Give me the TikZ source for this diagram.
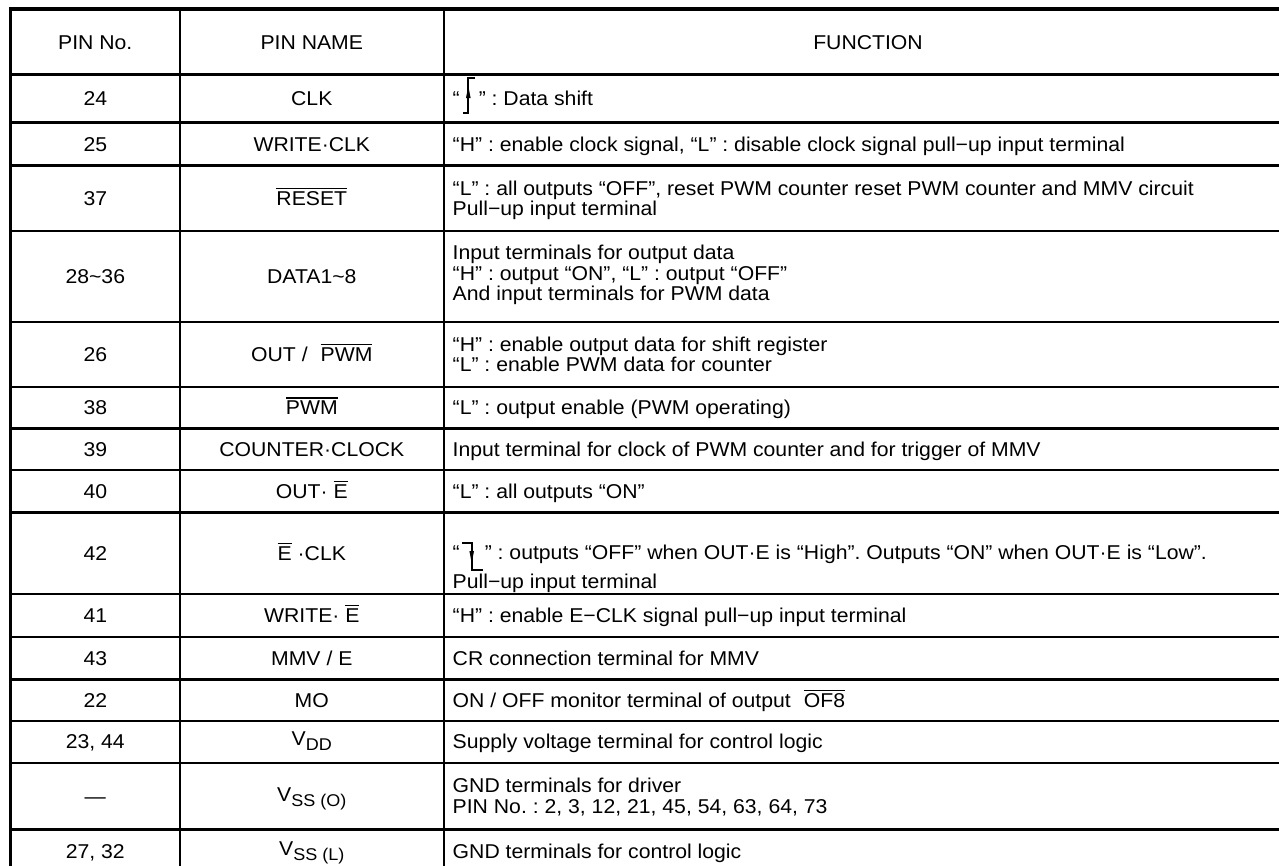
\documentclass[tikz,border=0pt]{standalone}
\usepackage{fontspec}
\setmainfont{Liberation Sans}[FakeStretch=1.06]
\newcommand\ovl[1]{\vbox{\hrule height 1.3pt\kern 2.2pt\hbox{#1}}}
\begin{document}
\frenchspacing
\begin{tikzpicture}[x=1pt,y=-1pt,
  txt/.style={inner sep=0pt, font=\fontsize{20}{20.5}\selectfont},
  ctr/.style={txt, anchor=base},
  lft/.style={txt, anchor=base west},
  thinrule/.style={line width=2.4pt},
  thickrule/.style={line width=3.6pt},
  edge/.style={line width=2pt, line cap=butt, line join=miter}]
\useasboundingbox (0,0) rectangle (1279,865);
\clip (0,0) rectangle (1279,865);
% ---- rules ----
\draw[thickrule] (9,9.2) -- (1300,9.2);
\draw[thickrule] (9,74.3) -- (1300,74.3);
\foreach \y in {122.3,165.3,230.7,321.7,386.7,428.3,470,512.3,593.7,636.7,679.3,720.7,762.7,829.3}
  \draw[thinrule] (9,\y) -- (1300,\y);
\draw[line width=3.4pt] (10.7,7.4) -- (10.7,900);
\draw[thinrule] (180,9.2) -- (180,900);
\draw[thinrule] (443.7,9.2) -- (443.7,900);
% ---- header ----
\node[ctr] (h1) at (95.3,49) {PIN No.};
\node[ctr] (h2) at (311.8,49) {PIN NAME};
\node[ctr] (h3) at (868,49) {FUNCTION};
% ---- row 24 ----
\node[ctr] (a1) at (95.3,105.5) {24};
\node[ctr] (b1) at (311.8,105.5) {CLK};
\node[lft] (c1) at (452.5,105.5) {“\hspace{19pt}” : Data shift};
\draw[edge] (463.3,113.3) -- (468.3,113.3) -- (468.3,78.3) -- (475,78.3);
\fill (468.3,86) -- (466,98) -- (470.6,98) -- cycle;
% ---- row 25 ----
\node[ctr] (a2) at (95.3,151) {25};
\node[ctr] (b2) at (311.8,151) {WRITE·CLK};
\node[lft] (c2) at (452.5,151) {“H” : enable clock signal, “L” : disable clock signal pull−up input terminal};
% ---- row 37 ----
\node[ctr] (a3) at (95.3,205.2) {37};
\node[ctr] (b3) at (311.8,205.2) {\ovl{RESET}};
\node[lft] (c3a) at (452.5,195) {“L” : all outputs “OFF”, reset PWM counter reset PWM counter and MMV circuit};
\node[lft] (c3b) at (452.5,215.4) {Pull−up input terminal};
% ---- row 28~36 ----
\node[ctr] (a4) at (95.3,283.4) {28\textasciitilde 36};
\node[ctr] (b4) at (311.8,283.4) {DATA1\textasciitilde 8};
\node[lft] (c4a) at (452.5,259.5) {Input terminals for output data};
\node[lft] (c4b) at (452.5,280) {“H” : output “ON”, “L” : output “OFF”};
\node[lft] (c4c) at (452.5,300.5) {And input terminals for PWM data};
% ---- row 26 ----
\node[ctr] (a5) at (95.3,361.4) {26};
\node[ctr] (b5) at (311.8,361.4) {OUT /\hspace{13pt}\ovl{PWM}};
\node[lft] (c5a) at (452.5,351.1) {“H” : enable output data for shift register};
\node[lft] (c5b) at (452.5,371.6) {“L” : enable PWM data for counter};
% ---- row 38 ----
\node[ctr] (a6) at (95.3,414.7) {38};
\node[ctr] (b6) at (311.8,414.7) {\ovl{PWM}};
\node[lft] (c6) at (452.5,414.7) {“L” : output enable (PWM operating)};
% ---- row 39 ----
\node[ctr] (a7) at (95.3,456.4) {39};
\node[ctr] (b7) at (311.8,456.4) {COUNTER·CLOCK};
\node[lft] (c7) at (452.5,456.4) {Input terminal for clock of PWM counter and for trigger of MMV};
% ---- row 40 ----
\node[ctr] (a8) at (95.3,498.4) {40};
\node[ctr] (b8) at (311.8,498.4) {OUT· \ovl{E}};
\node[lft] (c8) at (452.5,498.4) {“L” : all outputs “ON”};
% ---- row 42 ----
\node[ctr] (a9) at (95.3,560.2) {42};
\node[ctr] (b9) at (311.8,560.2) {\ovl{E} ·CLK};
\node[lft] (c9a) at (452.5,559) {“\hspace{25pt}” : outputs “OFF” when OUT·E is “High”. Outputs “ON” when OUT·E is “Low”.};
\node[lft] (c9b) at (452.5,588) {Pull−up input terminal};
\draw[edge] (461.7,542.7) -- (471.7,542.7) -- (471.7,570) -- (483.3,570);
\fill (471.7,563) -- (469.4,551) -- (474,551) -- cycle;
% ---- row 41 ----
\node[ctr] (a10) at (95.3,622.4) {41};
\node[ctr] (b10) at (311.8,622.4) {WRITE· \ovl{E}};
\node[lft] (c10) at (452.5,622.4) {“H” : enable E−CLK signal pull−up input terminal};
% ---- row 43 ----
\node[ctr] (a11) at (95.3,665.2) {43};
\node[ctr] (b11) at (311.8,665.2) {MMV / E};
\node[lft] (c11) at (452.5,665.2) {CR connection terminal for MMV};
% ---- row 22 ----
\node[ctr] (a12) at (95.3,707.2) {22};
\node[ctr] (b12) at (311.8,707.2) {MO};
\node[lft] (c12) at (452.5,707.2) {ON / OFF monitor terminal of output\hspace{13pt}\ovl{OF8}};
% ---- row 23, 44 ----
\node[ctr] (a13) at (95.3,748.9) {23, 44};
\node[ctr] (b13) at (311.8,745) {V\raisebox{-5.5pt}{\fontsize{17}{17}\selectfont DD}};
\node[lft] (c13) at (452.5,748.9) {Supply voltage terminal for control logic};
% ---- row VSS(O) ----
\node[ctr] (a14) at (95.3,803.2) {—};
\node[ctr] (b14) at (311.8,801) {V\raisebox{-5.5pt}{\fontsize{17}{17}\selectfont SS (O)}};
\node[lft] (c14a) at (452.5,792.9) {GND terminals for driver};
\node[lft] (c14b) at (452.5,813.4) {PIN No. : 2, 3, 12, 21, 45, 54, 63, 64, 73};
% ---- row 27, 32 ----
\node[ctr] (a15) at (95.3,858.5) {27, 32};
\node[ctr] (b15) at (311.8,855) {V\raisebox{-5.5pt}{\fontsize{17}{17}\selectfont SS (L)}};
\node[lft] (c15) at (452.5,858.5) {GND terminals for control logic};
\end{tikzpicture}
\end{document}
